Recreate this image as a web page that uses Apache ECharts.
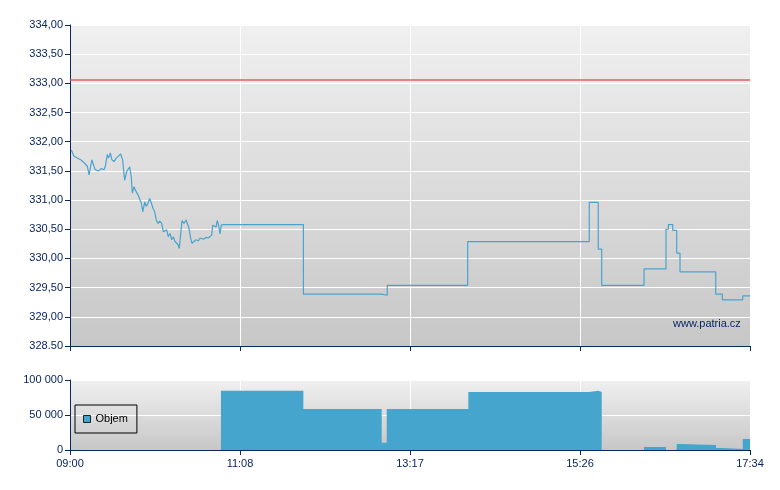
<!DOCTYPE html>
<html>
<head>
<meta charset="utf-8">
<script src="https://cdn.jsdelivr.net/npm/echarts@6/dist/echarts.min.js"></script>
<style>
html,body{margin:0;padding:0;background:#fff;}
#chart{width:780px;height:490px;}
</style>
</head>
<body>
<div id="chart"></div>
<script>
// minutes after 09:00
const xTickLabels = ['09:00', '11:08', '13:17', '15:26', '17:34'];
const yTickLabels = ['328.50', '329,00', '329,50', '330,00', '330,50', '331,00', '331,50', '332,00', '332,50', '333,00', '333,50', '334,00'];
const volTickLabels = ['0', '50 000', '100 000'];

const tradeTimes = [1.0, 2.3, 3.0, 4.0, 5.5, 6.8, 8.1, 9.1, 10.6, 11.6, 13.1, 14.4, 15.6, 16.6, 18.1, 19.1, 20.6, 21.7, 23.7, 25.7,
  26.7, 28.2, 29.2, 30.5, 31.7, 33.3, 35.0, 36.3, 38.3, 39.8, 41.3, 42.9, 43.8, 45.1, 46.3, 47.1, 48.4, 49.4, 50.4, 51.4,
  52.7, 53.9, 55.0, 56.5, 57.7, 59.0, 60.2, 61.5, 62.7, 64.0, 65.2, 66.5, 67.8, 69.3, 70.5, 71.8, 73.1, 74.3, 75.6, 76.9,
  78.1, 79.4, 80.7, 81.9, 82.6, 83.7, 84.7, 86.2, 87.7, 88.7, 89.7, 91.2, 92.2, 93.7, 95.2, 97.0, 98.3, 100.8, 102.8, 104.5,
  105.8, 107.1, 107.9, 109.1, 110.4, 111.3, 112.4, 113.4, 114.4, 115.6];
const tradePrices = [331.86, 331.89, 331.75, 331.78, 331.72, 331.75, 331.69, 331.72, 331.64, 331.67, 331.58, 331.43, 331.58, 331.69, 331.58, 331.52, 331.55, 331.50, 331.54, 331.52,
  331.58, 331.78, 331.72, 331.81, 331.69, 331.66, 331.72, 331.74, 331.79, 331.69, 331.34, 331.49, 331.52, 331.57, 331.40, 331.12, 331.23, 331.17, 331.20, 331.09,
  331.12, 330.95, 330.80, 330.97, 330.89, 330.95, 331.03, 330.95, 330.86, 330.80, 330.66, 330.60, 330.64, 330.60, 330.46, 330.43, 330.49, 330.37, 330.43, 330.32,
  330.37, 330.29, 330.26, 330.23, 330.17, 330.43, 330.65, 330.60, 330.66, 330.69, 330.54, 330.35, 330.26, 330.29, 330.32, 330.30, 330.35, 330.33, 330.36, 330.35,
  330.37, 330.40, 330.57, 330.60, 330.54, 330.65, 330.56, 330.42, 330.57, 330.58];

const stepTimes = [115.6, 176.4, 235.6, 239.8, 300.6, 392.5, 399.3, 401.9, 433.9, 450.5, 452.3, 455.6, 458.6, 461.1, 488.1, 493.1, 508.5, 514];
const stepPrices = [330.58, 329.39, 329.37, 329.54, 330.29, 330.96, 330.16, 329.54, 329.82, 330.50, 330.58, 330.48, 330.09, 329.77, 329.39, 329.29, 329.36, 329.36];

const refPrice = 333.06;

const volTimes = [0, 114.1, 176.4, 235.6, 239.4, 301.1, 392.5, 399.3, 401.9, 433.9, 450.5, 458.6, 461.1, 488.3, 493.3, 508.5, 514];
const volValues = [0, 84700, 58600, 10500, 58600, 82900, 84700, 82900, 0, 4300, 0, 8600, 7100, 2900, 1400, 15700, 15700];

const AX = '#0b2761';
const FONT = 'Liberation Sans, Arial, sans-serif';
const FS = 11;
const bg = {type: 'linear', x: 0, y: 0, x2: 0, y2: 1, colorStops: [{offset: 0, color: '#f0f0f0'}, {offset: 1, color: '#c7c7c7'}]};

const chart = echarts.init(document.getElementById('chart'), null, {renderer: 'canvas'});

function xAxisBase(idx, showLabels) {
  return {
    type: 'value', gridIndex: idx, min: 0, max: 514, interval: 128.5,
    axisLine: {show: true, onZero: false, lineStyle: {color: AX, width: 1}},
    axisTick: {show: true, length: 5, lineStyle: {color: AX}},
    axisLabel: {show: showLabels, color: AX, fontFamily: FONT, fontSize: FS, margin: 8,
      formatter: v => xTickLabels[Math.round(v / 128.5)]},
    splitLine: {show: true, lineStyle: {color: '#ffffff', width: 1}}
  };
}

chart.setOption({
  animation: false,
  grid: [
    {left: 70, top: 25, width: 680, height: 321, show: true, backgroundColor: bg, borderWidth: 0},
    {left: 70, top: 380, width: 680, height: 70, show: true, backgroundColor: bg, borderWidth: 0}
  ],
  xAxis: [xAxisBase(0, false), xAxisBase(1, true)],
  yAxis: [
    {type: 'value', gridIndex: 0, min: 328.5, max: 334, interval: 0.5,
      axisLine: {show: true, lineStyle: {color: AX, width: 1}},
      axisTick: {show: true, length: 5, lineStyle: {color: AX}},
      axisLabel: {color: AX, fontFamily: FONT, fontSize: FS, margin: 7,
        formatter: v => yTickLabels[Math.round((v - 328.5) / 0.5)]},
      splitLine: {show: true, lineStyle: {color: '#ffffff', width: 1}}},
    {type: 'value', gridIndex: 1, min: 0, max: 100000, interval: 50000,
      axisLine: {show: true, lineStyle: {color: AX, width: 1}},
      axisTick: {show: true, length: 5, lineStyle: {color: AX}},
      axisLabel: {color: AX, fontFamily: FONT, fontSize: FS, margin: 7,
        formatter: v => volTickLabels[Math.round(v / 50000)]},
      splitLine: {show: true, lineStyle: {color: '#ffffff', width: 1}}}
  ],
  legend: {
    data: ['Objem'], left: 75, top: 405, orient: 'vertical',
    padding: [7, 9, 7, 8], borderColor: '#000', borderWidth: 1, borderRadius: 0,
    backgroundColor: 'transparent', shadowBlur: 0,
    itemWidth: 7, itemHeight: 7, itemGap: 5, icon: 'rect',
    itemStyle: {color: '#46a5cd', borderColor: '#222', borderWidth: 1},
    textStyle: {color: '#000', fontFamily: FONT, fontSize: FS, lineHeight: 14}
  },
  graphic: [{type: 'text', left: 673, top: 318, style: {text: 'www.patria.cz', fill: AX, font: '11px ' + FONT}}],
  series: [
    {name: 'Kurz', type: 'line', xAxisIndex: 0, yAxisIndex: 0, symbol: 'none',
      lineStyle: {color: '#4aa3cf', width: 1.2},
      data: tradeTimes.map((t, i) => [t, tradePrices[i]]),
      markLine: {silent: true, symbol: 'none', label: {show: false},
        lineStyle: {color: '#dc5252', width: 1.6, type: 'solid', opacity: 0.9},
        data: [{yAxis: refPrice}]}},
    {name: 'Kurz2', type: 'line', xAxisIndex: 0, yAxisIndex: 0, symbol: 'none', step: 'end',
      lineStyle: {color: '#4aa3cf', width: 1.2},
      data: stepTimes.map((t, i) => [t, stepPrices[i]])},
    {name: 'Objem', type: 'line', xAxisIndex: 1, yAxisIndex: 1, symbol: 'none', step: 'end',
      lineStyle: {width: 0, color: '#46a5cd'}, itemStyle: {color: '#46a5cd'},
      areaStyle: {color: '#46a5cd', opacity: 1},
      data: volTimes.map((t, i) => [t, volValues[i]])}
  ]
});
</script>
</body>
</html>
